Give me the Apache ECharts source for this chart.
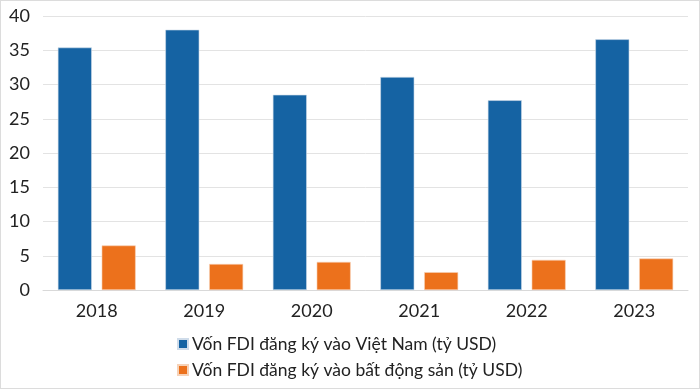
<!DOCTYPE html>
<html>
<head>
<meta charset="utf-8">
<script src="https://cdn.jsdelivr.net/npm/echarts@6/dist/echarts.min.js"></script>
<style>
  html, body { margin: 0; padding: 0; background: #fff; }
  #chart { width: 700px; height: 389px; box-sizing: border-box; border: 1px solid #dcdcdc; }
</style>
</head>
<body>
<div id="chart"></div>
<script>
// số liệu
const years = ['2018', '2019', '2020', '2021', '2022', '2023'];
const fdiVietNam = [35.4, 38.0, 28.5, 31.1, 27.7, 36.6];
const fdiBatDongSan = [6.5, 3.8, 4.1, 2.6, 4.4, 4.6];
const yTicks = [0, 5, 10, 15, 20, 25, 30, 35, 40];
const seriesNames = ['Vốn FDI đăng ký vào Việt Nam (tỷ USD)', 'Vốn FDI đăng ký vào bất động sản (tỷ USD)'];

const FONT = 'Lato, "Noto Sans", sans-serif';

const chart = echarts.init(document.getElementById('chart'));

// mỗi dòng chú thích là một legend riêng để xếp dọc
const legendRow = (name, top) => ({
  left: 176,
  top: top,
  padding: 0,
  itemWidth: 10,
  itemHeight: 10,
  itemGap: 0,
  icon: 'rect',
  textStyle: { fontFamily: FONT, fontSize: 17.5, color: '#222', padding: [0, 0, 0, -1] },
  data: [name]
});

chart.setOption({
  animation: false,
  grid: { left: 42, right: 11, top: 15, bottom: 98 },
  legend: [legendRow(seriesNames[0], 334), legendRow(seriesNames[1], 360)],
  xAxis: {
    type: 'category',
    data: years,
    axisLine: { lineStyle: { color: '#d9d9d9' } },
    axisTick: { show: false },
    axisLabel: { fontFamily: FONT, fontSize: 18, color: '#222', margin: 12 }
  },
  yAxis: {
    type: 'value',
    min: yTicks[0],
    max: yTicks[yTicks.length - 1],
    interval: 5,
    axisLabel: { fontFamily: FONT, fontSize: 18, color: '#222', margin: 13 },
    splitLine: { lineStyle: { color: '#e3e3e3', width: 1 } },
    axisLine: { show: false },
    axisTick: { show: false }
  },
  series: [
    {
      name: seriesNames[0],
      type: 'bar',
      data: fdiVietNam,
      barWidth: 34,
      barGap: '29%',
      itemStyle: { color: '#1563a3', borderColor: '#cfdcea', borderWidth: 0.6 }
    },
    {
      name: seriesNames[1],
      type: 'bar',
      data: fdiBatDongSan,
      barWidth: 34,
      itemStyle: { color: '#ec711c', borderColor: '#f6d2b8', borderWidth: 0.6 }
    }
  ]
});
</script>
</body>
</html>
